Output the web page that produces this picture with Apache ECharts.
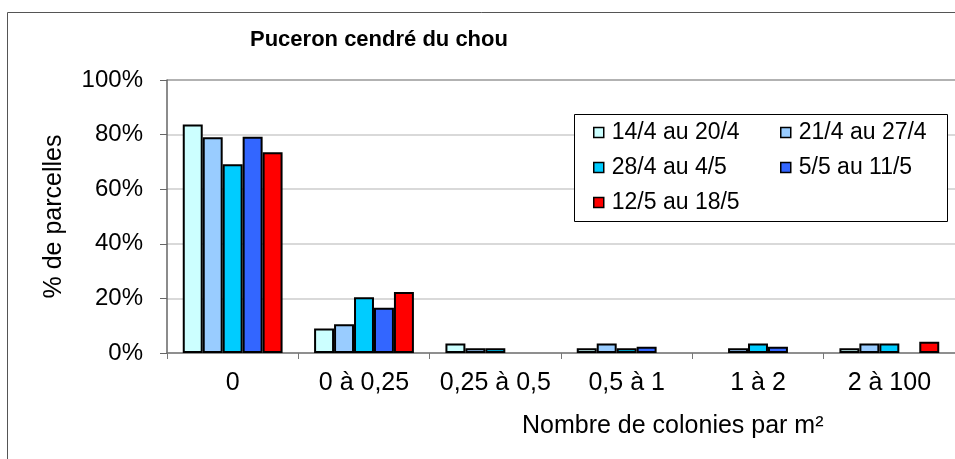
<!DOCTYPE html>
<html>
<head>
<meta charset="utf-8">
<script src="https://cdn.jsdelivr.net/npm/echarts@6/dist/echarts.min.js"></script>
<style>
  html, body { margin: 0; padding: 0; background: #fff; }
  #chart { width: 955px; height: 459px; }
</style>
</head>
<body>
<div id="chart"></div>
<script>
const categories = ["0", "0 à 0,25", "0,25 à 0,5", "0,5 à 1", "1 à 2", "2 à 100"];
const weeks = ["14/4 au 20/4", "21/4 au 27/4", "28/4 au 4/5", "5/5 au 11/5", "12/5 au 18/5"];
const colors = ["#CCFFFF", "#99CCFF", "#00CCFF", "#3366FF", "#FF0000"];

// % de parcelles par semaine
const week1 = [83.7, 9.0, 3.5, 1.7, 0, 1.7];
const week2 = [79.0, 10.5, 1.7, 3.5, 1.7, 3.5];
const week3 = [69.1, 20.4, 1.7, 1.7, 3.5, 3.5];
const week4 = [79.2, 16.6, 0, 2.3, 2.3, 0];
const week5 = [73.5, 22.3, 0, 0, 0, 4.1];
const allWeeks = [week1, week2, week3, week4, week5];

const yTicks = [0, 20, 40, 60, 80, 100];

const font = "Liberation Sans, Arial, sans-serif";

const series = weeks.map((name, i) => ({
  name: name,
  type: "bar",
  barGap: "0%",
  barCategoryGap: "24%",
  // pas de barre quand la valeur est nulle
  data: allWeeks[i].map((v) => (v === 0 ? null : v)),
  itemStyle: {
    color: colors[i],
    borderColor: "#000",
    borderWidth: 2,
  },
}));

const legendStyle = {
  orient: "vertical",
  icon: "rect",
  itemWidth: 10,
  itemHeight: 10,
  itemGap: 12,
  padding: 0,
  top: 121,
  itemStyle: { borderColor: "#000", borderWidth: 1.5 },
  textStyle: { fontFamily: font, fontSize: 23, color: "#000", padding: [0, 0, 0, 3] },
};

const option = {
  animation: false,
  color: colors,
  title: [
    {
      text: "Puceron cendré du chou",
      left: 250,
      top: 29,
      padding: 0,
      textStyle: { fontFamily: font, fontSize: 22, fontWeight: "bold", color: "#000" },
    },
    {
      text: "Nombre de colonies par m²",
      left: 522,
      top: 414,
      padding: 0,
      textStyle: { fontFamily: font, fontSize: 25, fontWeight: "normal", color: "#000" },
    },
  ],
  graphic: [
    {
      // cadre extérieur
      type: "rect",
      shape: { x: 7.5, y: 12.5, width: 1000, height: 1000 },
      style: { fill: "none", stroke: "#555", lineWidth: 1 },
      z: 1,
    },
    {
      // cadre de la légende
      type: "rect",
      shape: { x: 574.5, y: 114.5, width: 373, height: 107 },
      style: { fill: "#fff", stroke: "#000", lineWidth: 1 },
      z: 3,
    },
  ],
  legend: [
    Object.assign({}, legendStyle, { left: 593, data: [weeks[0], weeks[2], weeks[4]] }),
    Object.assign({}, legendStyle, { left: 780, data: [weeks[1], weeks[3]] }),
  ],
  grid: {
    left: 167,
    right: -6,
    top: 80,
    bottom: 106,
    containLabel: false,
  },
  xAxis: {
    type: "category",
    data: categories,
    axisLine: { lineStyle: { color: "#777", width: 1.5 } },
    axisTick: { show: true, length: 6, lineStyle: { color: "#777" } },
    axisLabel: { interval: 0, margin: 18, fontFamily: font, fontSize: 25, color: "#000" },
  },
  yAxis: {
    type: "value",
    min: yTicks[0],
    max: yTicks[yTicks.length - 1],
    interval: 20,
    name: "% de parcelles",
    nameLocation: "middle",
    nameGap: 100,
    nameTextStyle: { fontFamily: font, fontSize: 25, color: "#000" },
    axisLine: { show: true, lineStyle: { color: "#666", width: 1.5 } },
    axisTick: { show: true, length: 7, lineStyle: { color: "#666" } },
    axisLabel: {
      margin: 24,
      fontFamily: font,
      fontSize: 24,
      color: "#000",
      formatter: "{value}%",
    },
    splitLine: {
      lineStyle: { color: ["#ccc", "#ccc", "#ccc", "#ccc", "#ccc", "#999"], width: 1.5 },
    },
  },
  series: series,
};

const myChart = echarts.init(document.getElementById("chart"));
myChart.setOption(option);
</script>
</body>
</html>
